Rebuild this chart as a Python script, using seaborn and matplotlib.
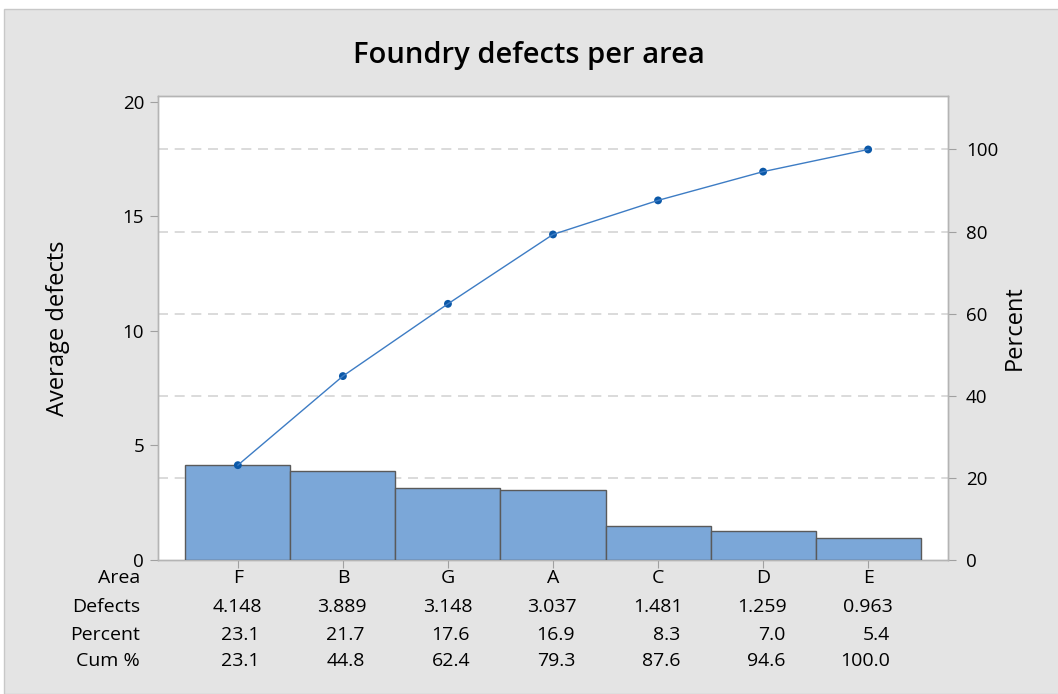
import numpy as np
import pandas as pd
import seaborn as sns
import matplotlib.pyplot as plt
import matplotlib.transforms as mtransforms

# Pareto data
areas = ["F", "B", "G", "A", "C", "D", "E"]
defects = [4.148, 3.889, 3.148, 3.037, 1.481, 1.259, 0.963]
percent = [23.1, 21.7, 17.6, 16.9, 8.3, 7.0, 5.4]
cum_pct = [23.1, 44.8, 62.4, 79.3, 87.6, 94.6, 100.0]
defect_labels = ["4.148", "3.889", "3.148", "3.037", "1.481", "1.259", "0.963"]

df = pd.DataFrame({"Area": areas, "Defects": defects, "Cum": cum_pct})
df["pos"] = np.arange(len(areas))

sns.set_style("white")
plt.rcParams["font.family"] = ["Open Sans", "DejaVu Sans"]
plt.rcParams["text.color"] = "black"
plt.rcParams["axes.labelcolor"] = "black"
plt.rcParams["xtick.color"] = "black"
plt.rcParams["ytick.color"] = "black"

bg = "#e4e4e4"
fig = plt.figure(figsize=(10.58, 6.94), dpi=100, facecolor="white")
fig.patches.append(plt.Rectangle((4 / 1058, 0), 1, 1 - 9 / 694, transform=fig.transFigure,
                                 facecolor=bg, edgecolor="#c8c8c8", lw=1, zorder=-10))
ax = fig.add_axes([158 / 1058, 1 - 560 / 694, (948 - 158) / 1058, (560 - 96) / 694])

total = sum(defects)
ymax = 20.26

# bars
sns.barplot(data=df, x="pos", y="Defects", width=1.0, color="#7ba7d8", saturation=1,
            edgecolor="#5a5a5a", linewidth=1, ax=ax, native_scale=True, zorder=3)
ax.set_xlim(-0.76, 6.76)
ax.set_ylim(0, ymax)
ax.set_yticks([0, 5, 10, 15, 20])
ax.set_xticks(df["pos"])
ax.set_xticklabels([])
ax.set_xlabel("")
ax.set_ylabel("Average defects", fontsize=17)
ax.yaxis.set_label_coords(-0.112, 0.5)
ax.tick_params(axis="y", labelsize=13.5, length=6, color="#a0a0a0", direction="out", left=True, pad=4)
ax.tick_params(axis="x", length=6, color="#a0a0a0", direction="out", bottom=True)

# percent axis (behind the bars)
ax2 = ax.twinx()
ax2.set_ylim(0, ymax / total * 100)
ax2.set_yticks([0, 20, 40, 60, 80, 100])
ax2.tick_params(axis="y", labelsize=13.5, length=6, color="#a0a0a0", direction="out",
                right=True, labelright=True, pad=7)
ax2.set_ylabel("Percent", fontsize=17)
ax2.yaxis.set_label_coords(1.069, 0.5)
for y in [20, 40, 60, 80, 100]:
    ax2.axhline(y, color="#d4d4d4", lw=1.2, ls=(0, (6, 4)), zorder=1)
ax2.patch.set_visible(True)
ax2.set_facecolor("white")
ax2.set_zorder(0)
ax.set_zorder(1)
ax.patch.set_visible(False)

# cumulative percent line on top
ax3 = ax.twinx()
ax3.set_zorder(2)
ax3.patch.set_visible(False)
sns.lineplot(data=df, x="pos", y="Cum", color="#3d7cc4", lw=1, ax=ax3)
sns.scatterplot(data=df, x="pos", y="Cum", color="#0b58a8", s=32, edgecolor="none", ax=ax3)
ax3.set_ylim(ax2.get_ylim())
ax3.set_xlim(-0.76, 6.76)
ax3.axis("off")

for a in (ax, ax2):
    for s in a.spines.values():
        s.set_color("#b4b4b4")
        s.set_linewidth(1)

# table below the chart
trans = mtransforms.blended_transform_factory(ax.transData, fig.transFigure)
rows_y = [1 - 578 / 694, 1 - 607 / 694, 1 - 635 / 694, 1 - 661 / 694]
row_names = ["Area", "Defects", "Percent", "Cum %"]
for name, y in zip(row_names, rows_y):
    fig.text(140 / 1058, y, name, ha="right", va="center", fontsize=14)
for i in range(len(areas)):
    ax.text(i, rows_y[0], areas[i], transform=trans, ha="center", va="center", fontsize=14)
    ax.text(i + 0.23, rows_y[1], defect_labels[i], transform=trans, ha="right", va="center", fontsize=14)
    ax.text(i + 0.21, rows_y[2], f"{percent[i]:.1f}", transform=trans, ha="right", va="center", fontsize=14)
    ax.text(i + 0.21, rows_y[3], f"{cum_pct[i]:.1f}", transform=trans, ha="right", va="center", fontsize=14)

fig.text(0.5, 1 - 56 / 694, "Foundry defects per area", ha="center", va="center",
         fontsize=21, fontweight="semibold")

fig.savefig("out.png", dpi=100, facecolor="white")
